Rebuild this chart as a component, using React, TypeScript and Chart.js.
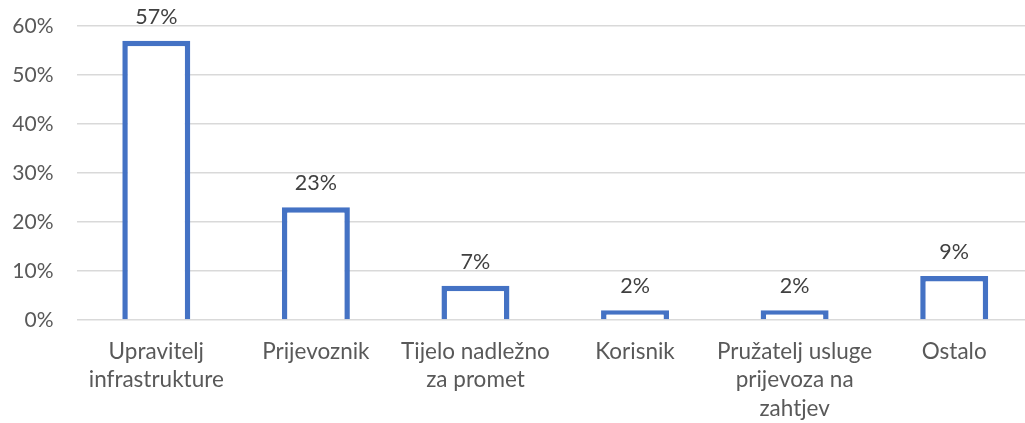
import React, { useEffect, useRef } from "react";
import { Chart, registerables } from "chart.js";

Chart.register(...registerables);

const categories: string[][] = [
  ["Upravitelj", "infrastrukture"],
  ["Prijevoznik"],
  ["Tijelo nadležno", "za promet"],
  ["Korisnik"],
  ["Pružatelj usluge", "prijevoza na", "zahtjev"],
  ["Ostalo"],
];
const values: number[] = [57, 23, 7, 2, 2, 9];
const yTicks: number[] = [0, 10, 20, 30, 40, 50, 60];

const FONT = "Lato, 'Open Sans', sans-serif";

const valueLabels = {
  id: "valueLabels",
  afterDatasetsDraw(chart: any) {
    const ctx = chart.ctx;
    const meta = chart.getDatasetMeta(0);
    ctx.save();
    ctx.fillStyle = "#404040";
    ctx.font = `21.5px ${FONT}`;
    ctx.textAlign = "center";
    ctx.textBaseline = "bottom";
    meta.data.forEach((bar: any, i: number) => {
      ctx.fillText(`${values[i]}%`, bar.x, bar.y - 13);
    });
    ctx.restore();
  },
};

export default function App() {
  const ref = useRef<HTMLCanvasElement>(null);
  useEffect(() => {
    const chart = new Chart(ref.current!, {
      type: "bar",
      data: {
        labels: categories,
        datasets: [
          {
            data: values,
            backgroundColor: "#ffffff",
            borderColor: "#4472C4",
            borderWidth: 5.5,
            barPercentage: 0.426,
            categoryPercentage: 1,
          },
        ],
      },
      options: {
        animation: false,
        responsive: false,
        maintainAspectRatio: false,
        layout: { padding: { top: 26, right: 1, left: 0, bottom: 0 } },
        plugins: { legend: { display: false }, tooltip: { enabled: false } },
        scales: {
          y: {
            min: 0,
            max: 60,
            afterFit: (s: any) => {
              s.width = 76.5;
              s.paddingTop = 0;
              s.paddingBottom = 0;
            },
            afterBuildTicks: (s: any) => {
              s.ticks = yTicks.map((v) => ({ value: v }));
            },
            ticks: {
              color: "#595959",
              font: { family: FONT, size: 21 },
              padding: 23,
              callback: (v: any) => `${v}%`,
            },
            grid: { color: "#d9d9d9", lineWidth: 1.5, drawTicks: false },
            border: { display: false },
          },
          x: {
            afterFit: (s: any) => {
              s.height = 103;
              s.paddingLeft = 0;
              s.paddingRight = 0;
              s.paddingTop = 0;
              s.paddingBottom = 0;
            },
            ticks: {
              color: "#595959",
              font: { family: FONT, size: 22.5, lineHeight: 1.25 },
              padding: 18,
              maxRotation: 0,
              autoSkip: false,
            },
            grid: { display: false, drawTicks: false },
            border: { display: false },
          },
        },
      },
      plugins: [valueLabels],
    });
    return () => chart.destroy();
  }, []);
  return (
    <div style={{ position: "fixed", left: 0, top: 0, width: 1025, height: 423, overflow: "hidden", background: "#fff" }}>
      <canvas ref={ref} width={1035} height={423} />
    </div>
  );
}
